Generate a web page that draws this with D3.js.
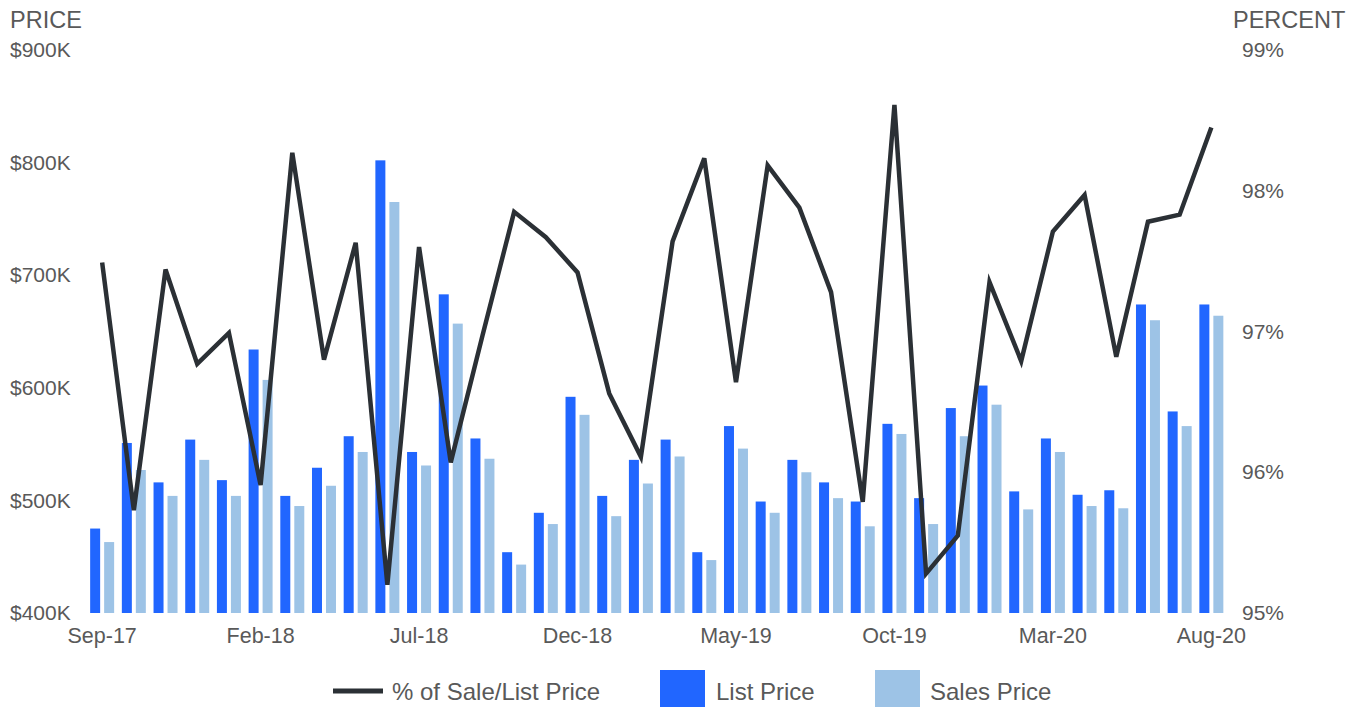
<!DOCTYPE html>
<meta charset="utf-8">

<!-- Load d3.js -->
<script src="https://d3js.org/d3.v7.min.js"></script>

<style>
body { margin: 0; background: #fff; }
text { font-family: "Liberation Sans", Arial, sans-serif; fill: #595959; }
</style>

<div id="my_dataviz"></div>

<script>

// months on the x axis
var months = ["Sep-17","Oct-17","Nov-17","Dec-17","Jan-18","Feb-18","Mar-18","Apr-18","May-18","Jun-18","Jul-18","Aug-18",
  "Sep-18","Oct-18","Nov-18","Dec-18","Jan-19","Feb-19","Mar-19","Apr-19","May-19","Jun-19","Jul-19","Aug-19",
  "Sep-19","Oct-19","Nov-19","Dec-19","Jan-20","Feb-20","Mar-20","Apr-20","May-20","Jun-20","Jul-20","Aug-20"];

// prices in $K
var listPrice = [475,551,516,554,518,634,504,529,557,802,543,683,555,454,489,592,504,536,554,454,566,499,536,516,
  499,568,502,582,602,508,555,505,509,674,579,674];
var salesPrice = [463,527,504,536,504,607,495,513,543,765,531,657,537,443,479,576,486,515,539,447,546,489,525,502,
  477,559,479,557,585,492,543,495,493,660,566,664];

// % of sale / list price
var pctSaleList = [97.49,95.73,97.44,96.77,96.99,95.91,98.27,96.80,97.63,95.20,97.60,96.07,96.97,97.85,97.67,97.42,
  96.56,96.11,97.64,98.23,96.64,98.18,97.88,97.28,95.79,98.61,95.28,95.55,97.35,96.79,97.71,97.97,96.82,97.78,97.83,98.45];

// tick labels
var priceTicks = [400,500,600,700,800,900];
var pctTicks = [95,96,97,98,99];
var monthTicks = ["Sep-17","Feb-18","Jul-18","Dec-18","May-19","Oct-19","Mar-20","Aug-20"];

var series = ["List Price","Sales Price"];
var colors = {"List Price": "#2166ff", "Sales Price": "#9dc3e6"};
var lineColor = "#2b3035";
var textColor = "#595959";

var width = 1361, height = 707;

var svg = d3.select("#my_dataviz")
  .append("svg")
    .attr("width", width)
    .attr("height", height);

// scales
var x = d3.scaleBand()
  .domain(months)
  .range([86.3, 1227.2])
  .paddingInner(0.243)
  .paddingOuter(0.1215);

var xSub = d3.scaleBand()
  .domain(series)
  .range([0, x.bandwidth()])
  .paddingInner(0.2857);

var yPrice = d3.scaleLinear()
  .domain([400, 900])
  .range([613, 50]);

var yPct = d3.scaleLinear()
  .domain([95, 99])
  .range([613, 50]);

// left axis
var gl = svg.append("g")
  .attr("transform", "translate(10,0)")
  .call(d3.axisLeft(yPrice).tickValues(priceTicks).tickSize(0)
    .tickFormat(function(d) { return "$" + d + "K"; }));
gl.select(".domain").remove();
gl.selectAll("text")
  .attr("x", 0)
  .attr("text-anchor", "start")
  .style("font-size", "21px")
  .style("fill", textColor);

// right axis
var gr = svg.append("g")
  .attr("transform", "translate(1242,0)")
  .call(d3.axisRight(yPct).tickValues(pctTicks).tickSize(0)
    .tickFormat(function(d) { return d + "%"; }));
gr.select(".domain").remove();
gr.selectAll("text")
  .attr("x", 0)
  .attr("text-anchor", "start")
  .style("font-size", "21px")
  .style("fill", textColor);

// x axis
var gx = svg.append("g")
  .attr("transform", "translate(0,613)")
  .call(d3.axisBottom(x).tickValues(monthTicks).tickSize(0).tickPadding(15));
gx.select(".domain").remove();
gx.selectAll("text")
  .style("font-size", "21.5px")
  .style("fill", textColor);

// axis titles
svg.append("text")
  .attr("x", 10)
  .attr("y", 28)
  .style("font-size", "23.5px")
  .text("PRICE");

svg.append("text")
  .attr("x", 1233)
  .attr("y", 28)
  .style("font-size", "23.5px")
  .text("PERCENT");

// bars
var rows = months.map(function(m, i) {
  return {month: m, values: [{key: "List Price", value: listPrice[i]}, {key: "Sales Price", value: salesPrice[i]}]};
});

svg.append("g")
  .selectAll("g")
  .data(rows)
  .enter()
  .append("g")
    .attr("transform", function(d) { return "translate(" + x(d.month) + ",0)"; })
  .selectAll("rect")
  .data(function(d) { return d.values; })
  .enter()
  .append("rect")
    .attr("x", function(d) { return xSub(d.key); })
    .attr("y", function(d) { return yPrice(d.value); })
    .attr("width", xSub.bandwidth())
    .attr("height", function(d) { return yPrice(400) - yPrice(d.value); })
    .attr("fill", function(d) { return colors[d.key]; });

// line
var line = d3.line()
  .x(function(d, i) { return x(months[i]) + x.bandwidth() / 2; })
  .y(function(d) { return yPct(d); });

svg.append("path")
  .datum(pctSaleList)
  .attr("fill", "none")
  .attr("stroke", lineColor)
  .attr("stroke-width", 4.5)
  .attr("d", line);

// legend
var leg = svg.append("g");
leg.append("line")
  .attr("x1", 333).attr("x2", 383)
  .attr("y1", 691).attr("y2", 691)
  .attr("stroke", lineColor)
  .attr("stroke-width", 5);
leg.append("text")
  .attr("x", 392).attr("y", 700)
  .style("font-size", "24px")
  .text("% of Sale/List Price");

leg.append("rect")
  .attr("x", 660).attr("y", 670)
  .attr("width", 45).attr("height", 45)
  .attr("fill", colors["List Price"]);
leg.append("text")
  .attr("x", 716).attr("y", 700)
  .style("font-size", "24px")
  .text("List Price");

leg.append("rect")
  .attr("x", 875).attr("y", 670)
  .attr("width", 45).attr("height", 45)
  .attr("fill", colors["Sales Price"]);
leg.append("text")
  .attr("x", 930).attr("y", 700)
  .style("font-size", "24px")
  .text("Sales Price");

</script>
